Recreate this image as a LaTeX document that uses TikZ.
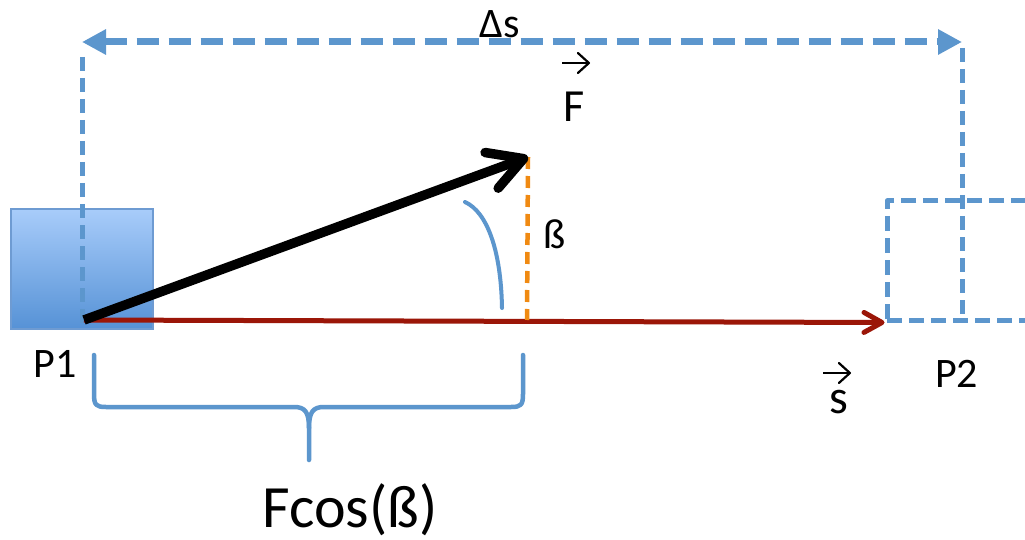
\documentclass[tikz,border=0pt]{standalone}
\usepackage{fontspec}
\setmainfont{Carlito}
\usetikzlibrary{arrows.meta,calc}
\definecolor{bl}{RGB}{92,150,205}
\definecolor{boxtop}{RGB}{168,204,250}
\definecolor{boxbot}{RGB}{86,146,214}
\definecolor{boxedge}{RGB}{110,155,210}
\definecolor{dred}{RGB}{155,22,8}
\definecolor{orng}{RGB}{240,138,18}
\tikzset{
  solidbox/.style={draw=boxedge, line width=1.5pt, top color=boxtop, bottom color=boxbot,
    minimum width=142pt, minimum height=120pt, inner sep=0pt},
  ghostbox/.style={draw=bl, line width=5pt, dash pattern=on 15pt off 7pt, line join=round,
    minimum width=142pt, minimum height=119pt, inner sep=0pt},
  dimline/.style={draw=bl, line width=7pt, dash pattern=on 22pt off 10pt,
    {Triangle[length=24pt,width=24pt]}-{Triangle[length=24pt,width=24pt]}},
  guide/.style={draw=bl, line width=5pt, dash pattern=on 14pt off 7pt},
  forcearrow/.style={draw=black, line width=9.5pt,
    -{Straight Barb[length=34pt,width=38pt,line cap=round,line join=round]}},
  disp/.style={draw=dred, line width=5pt,
    -{Straight Barb[length=18pt,width=20pt,line cap=round,line join=round]}},
  orngline/.style={draw=orng, line width=4.5pt, dash pattern=on 12pt off 7pt},
  anglearc/.style={draw=bl, line width=4pt, line cap=round},
  bracest/.style={draw=bl, line width=4.5pt, line cap=round, line join=round},
  vecarrow/.style={draw=black, line width=2.2pt,
    -{Straight Barb[length=11pt,width=20pt,line cap=round,line join=round]}},
  lbl/.style={inner sep=0pt, anchor=base, text=black, font=\fontsize{42}{50}\selectfont},
}
\begin{document}
\begin{tikzpicture}[x=1pt,y=-1pt]
\clip (0,0) rectangle (1025,540);
\fill[white] (0,0) rectangle (1025,540);

% boxes
\node[solidbox] (b1) at (82,269) {};
\node[ghostbox] (b2) at (958,260.5) {};

% named points
\coordinate (dsL) at (82,42);
\coordinate (dsR) at (962,42);
\coordinate (gL1) at (82,57);
\coordinate (gL2) at (82,328);
\coordinate (gR1) at (962,48);
\coordinate (gR2) at (962,320);
\coordinate (O) at (84,320);
\coordinate (Ftip) at (528,157);
\coordinate (foot) at (527,320);

% guides and dimension arrow
\draw[guide] (gL1) -- (gL2);
\draw[guide] (gR1) -- (gR2);
\draw[dimline] (dsL) -- (dsR);

% displacement and force
\draw[disp] (O) -- (b2.south west);
\draw[orngline] (Ftip) -- (foot);
\draw[forcearrow] (O) -- (Ftip);

% angle arc
\coordinate (a1) at (465,202);
\coordinate (a2) at (502,308);
\draw[anglearc] (a1) .. controls (487,212) and (501,250) .. (a2);

% brace
\coordinate (brL) at (94,355);
\coordinate (brR) at (523,355);
\coordinate (brC) at (309,460);
\draw[bracest] (brL) -- (94,394) .. controls (94,405) and (96,407) .. (106,407)
  -- (294,407) .. controls (305,407) and (309,412) .. (309,428) -- (brC);
\draw[bracest] (309,428) .. controls (309,412) and (313,407) .. (324,407)
  -- (511,407) .. controls (521,407) and (523,405) .. (523,394) -- (brR);

% labels
\node[lbl] (ds) at (500,38) {Δs};
\node[lbl, font=\fontsize{46}{55}\selectfont] (Flab) at (574,122) {F};
\coordinate (Fa1) at (562,63);
\coordinate (Fa2) at (590,63);
\draw[vecarrow] (Fa1) -- (Fa2);
\node[lbl] (beta) at (555,248) {ß};
\node[lbl] (P1) at (55,377) {P1};
\node[lbl] (P2) at (956.5,387) {P2};
\node[lbl, font=\fontsize{48}{56}\selectfont] (slab) at (838.5,413) {s};
\coordinate (sa1) at (823,373);
\coordinate (sa2) at (851,373);
\draw[vecarrow] (sa1) -- (sa2);
\node[lbl, font=\fontsize{60}{70}\selectfont] (fc) at (350,527) {Fcos(ß)};
\end{tikzpicture}
\end{document}
